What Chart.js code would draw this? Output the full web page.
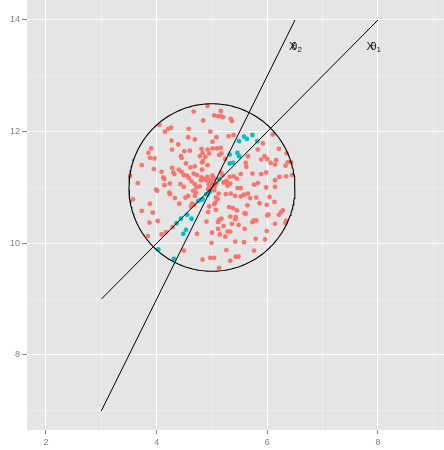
<!DOCTYPE html>
<html>
<head>
<meta charset="utf-8">
<script src="https://cdn.jsdelivr.net/npm/chart.js@4.4.1/dist/chart.umd.min.js"></script>
<style>
  html, body { margin: 0; padding: 0; background: #ffffff; }
  #wrap { width: 444px; height: 450px; }
</style>
</head>
<body>
<div id="wrap"><canvas id="c" width="444" height="450"></canvas></div>
<script>
// Sample points outside the projection set
const redX = [4.92,4.67,5.16,5.04,5.11,5.16,5.20,4.84,5.34,5.36,4.05,4.26,4.21,4.15,4.58,4.97,4.69,4.57,4.27,4.39,
  5.08,5.01,5.30,5.39,6.10,5.92,3.90,3.85,3.88,3.96,4.28,4.50,4.60,4.81,4.92,5.01,5.09,5.16,4.83,4.78,
  4.88,4.95,4.44,4.45,5.13,5.17,5.24,4.84,4.82,4.92,5.83,5.65,5.95,6.00,6.21,6.35,6.37,6.16,6.06,6.14,
  5.89,3.73,3.95,4.28,4.53,4.40,4.09,4.12,4.14,4.30,4.32,4.61,4.69,4.82,5.61,5.62,5.89,5.98,6.33,6.43,
  3.52,3.66,4.45,4.49,4.55,4.58,4.67,4.73,4.81,4.85,4.80,4.92,4.90,5.01,4.98,5.04,5.16,5.19,5.26,5.27,
  5.32,5.39,5.52,5.45,5.73,6.22,6.34,6.45,3.99,4.01,4.14,4.24,4.43,4.49,4.63,4.69,4.72,4.78,4.94,4.97,
  5.01,5.05,4.98,4.93,5.04,5.08,5.21,5.28,5.33,5.46,5.52,5.76,5.83,5.98,6.14,6.14,3.88,3.93,3.73,3.57,
  4.23,4.24,4.33,4.41,4.52,4.57,4.66,4.71,4.69,5.07,5.10,5.06,5.04,5.12,5.25,5.34,5.42,5.58,5.52,5.65,
  5.69,5.80,6.04,4.64,4.68,4.62,4.95,4.93,5.07,5.31,5.38,5.45,5.59,5.64,5.86,5.99,6.13,6.28,6.25,6.21,
  4.02,3.87,4.29,4.90,5.13,5.17,5.11,5.33,5.43,5.42,5.61,5.76,5.80,5.73,6.00,6.02,6.14,6.33,6.34,4.17,
  4.09,3.84,4.73,5.00,5.11,5.21,5.28,5.14,5.24,5.36,5.48,5.33,5.59,5.99,5.96,5.79,5.76,4.99,5.42,5.58,
  5.26,4.49,4.83,4.97,5.04,5.33,5.43,5.48,5.13,5.00,4.96,5.03,4.99,5.02,4.95];
const redY = [12.46,12.36,12.37,12.29,12.28,12.28,12.26,12.20,12.23,12.19,12.12,12.07,12.05,12.00,12.05,12.00,11.86,11.90,11.84,11.77,
  11.90,11.82,11.92,11.94,11.95,11.79,11.70,11.62,11.53,11.52,11.68,11.65,11.66,11.69,11.68,11.70,11.70,11.71,11.62,11.56,
  11.55,11.61,11.56,11.53,11.58,11.61,11.51,11.47,11.45,11.40,11.68,11.56,11.56,11.51,11.69,11.61,11.45,11.49,11.44,11.41,
  11.50,11.40,11.33,11.35,11.43,11.32,11.28,11.18,11.15,11.27,11.24,11.36,11.38,11.32,11.44,11.37,11.24,11.27,11.39,11.45,
  11.21,11.08,11.28,11.22,11.21,11.17,11.25,11.22,11.18,11.16,11.13,11.19,11.13,11.21,11.13,11.16,11.27,11.22,11.12,11.08,
  11.19,11.20,11.24,11.16,11.25,11.19,11.20,11.22,10.96,10.94,11.04,11.07,11.06,11.01,11.11,11.06,11.00,11.02,11.06,11.03,
  11.06,11.02,10.99,10.97,10.95,11.08,11.09,11.03,11.07,10.99,10.99,11.05,11.08,11.00,11.13,11.01,10.71,10.55,10.58,10.79,
  10.91,10.88,10.81,10.71,10.82,10.85,10.94,10.91,10.85,10.82,10.79,10.73,10.70,10.89,10.88,10.89,10.85,10.87,10.84,10.89,
  10.81,10.82,10.83,10.71,10.69,10.66,10.66,10.56,10.60,10.65,10.63,10.59,10.54,10.68,10.72,10.69,10.74,10.59,10.56,10.51,
  10.40,10.37,10.29,10.39,10.42,10.44,10.38,10.48,10.47,10.43,10.53,10.41,10.41,10.38,10.50,10.52,10.35,10.36,10.40,10.20,
  10.16,10.13,10.17,10.19,10.26,10.31,10.21,10.16,10.12,10.35,10.33,10.21,10.26,10.22,10.07,10.08,9.87,10.01,10.03,10.02,
  9.88,9.87,9.71,9.74,9.74,9.69,9.76,9.76,9.56,11.00,11.01,10.98,11.04,11.03,10.99];

// Points lying in the projection set
const tealX = [5.58,5.63,5.73,5.49,5.82,5.32,5.46,5.49,5.32,5.38,5.13,4.75,4.80,4.83,4.90,4.92,4.96,4.44,4.55,4.63,4.53,4.48,4.36,4.03,4.31];
const tealY = [11.91,11.87,11.94,11.83,11.83,11.59,11.62,11.56,11.43,11.44,11.15,10.76,10.78,10.79,10.88,10.87,10.92,10.44,10.51,10.44,10.24,10.17,10.36,9.89,9.72];

// Directions through the centre (end points of each segment)
const line1X = [3, 8];
const line1Y = [9, 14];
const line2X = [3, 6.5];
const line2Y = [7, 14];

// Reference circle
const circleCenter = [5, 11];
const circleRadius = 1.5;

// Axis ticks
const xTicks = [2, 3, 4, 5, 6, 7, 8, 9];
const yTicks = [7, 8, 9, 10, 11, 12, 13, 14];
const xRange = [1.657, 9.193];
const yRange = [6.657, 14.358];

// Line labels: "X" over theta with subscript
const labelText = ['1', '2'];
const labelXPosX = [7.86, 6.46];
const labelThetaX = [7.96, 6.53];
const labelY = [13.52, 13.52];

const toPts = (xs, ys) => xs.map((x, i) => ({ x: x, y: ys[i] }));

const circlePts = [];
for (let k = 0; k <= 240; k++) {
  const a = (k / 240) * Math.PI * 2;
  circlePts.push({ x: circleCenter[0] + circleRadius * Math.cos(a), y: circleCenter[1] + circleRadius * Math.sin(a) });
}

const panelBg = {
  id: 'panelBg',
  beforeDraw(chart) {
    const { ctx, chartArea: a } = chart;
    ctx.save();
    ctx.fillStyle = '#E5E5E5';
    ctx.fillRect(a.left, a.top, a.right - a.left, a.bottom - a.top);
    ctx.restore();
  }
};

const thetaLabels = {
  id: 'thetaLabels',
  afterDatasetsDraw(chart) {
    const { ctx, scales: { x, y } } = chart;
    ctx.save();
    ctx.fillStyle = '#1a1a1a';
    ctx.textBaseline = 'middle';
    for (let i = 0; i < labelText.length; i++) {
      const py = y.getPixelForValue(labelY[i]);
      ctx.font = '11px "Liberation Sans", Arial, sans-serif';
      ctx.textAlign = 'center';
      ctx.fillText('X', x.getPixelForValue(labelXPosX[i]), py);
      const tx = x.getPixelForValue(labelThetaX[i]);
      const w1 = ctx.measureText('\u03B8').width;
      ctx.font = '8px "Liberation Sans", Arial, sans-serif';
      const w2 = ctx.measureText(labelText[i]).width;
      const left = tx - (w1 + w2) / 2;
      ctx.font = '11px "Liberation Sans", Arial, sans-serif';
      ctx.textAlign = 'left';
      ctx.fillText('\u03B8', left, py);
      ctx.font = '8px "Liberation Sans", Arial, sans-serif';
      ctx.fillText(labelText[i], left + w1, py + 3);
    }
    ctx.restore();
  }
};

const gridColor = (c) => (c.tick && c.tick.value % 2 === 0) ? '#FFFFFF' : '#F2F2F2';
const gridWidth = (c) => (c.tick && c.tick.value % 2 === 0) ? 1.1 : 0.6;
const tickColor = (c) => (c.tick && c.tick.value % 2 === 0) ? '#7F7F7F' : 'rgba(0,0,0,0)';

new Chart(document.getElementById('c'), {
  type: 'scatter',
  data: {
    datasets: [
      { type: 'line', data: toPts(line1X, line1Y), borderColor: '#000000', borderWidth: 1, pointRadius: 0, fill: false, tension: 0 },
      { type: 'line', data: toPts(line2X, line2Y), borderColor: '#000000', borderWidth: 1, pointRadius: 0, fill: false, tension: 0 },
      { type: 'line', data: circlePts, borderColor: '#000000', borderWidth: 1.1, pointRadius: 0, fill: false, tension: 0 },
      { data: toPts(tealX, tealY), backgroundColor: '#00BFC4', borderWidth: 0, pointRadius: 2.4 },
      { data: toPts(redX, redY), backgroundColor: '#F8766D', borderWidth: 0, pointRadius: 2.4 }
    ]
  },
  options: {
    responsive: false,
    animation: false,
    devicePixelRatio: 1,
    layout: { padding: 0, autoPadding: false },
    plugins: { legend: { display: false }, tooltip: { enabled: false } },
    scales: {
      x: {
        type: 'linear', min: xRange[0], max: xRange[1],
        afterBuildTicks: (s) => { s.ticks = xTicks.map(v => ({ value: v })); },
        afterFit: (s) => { s.height = 20; s.paddingLeft = 0; s.paddingRight = 0; },
        border: { display: false },
        grid: { color: gridColor, lineWidth: gridWidth, tickColor: tickColor, tickLength: 4, tickWidth: 1 },
        ticks: {
          autoSkip: false, maxRotation: 0, padding: 3, color: '#7F7F7F',
          font: { family: '"Liberation Sans", Arial, sans-serif', size: 9 },
          callback: (v) => (v % 2 === 0 ? String(v) : '')
        }
      },
      y: {
        type: 'linear', min: yRange[0], max: yRange[1],
        afterBuildTicks: (s) => { s.ticks = yTicks.map(v => ({ value: v })); },
        afterFit: (s) => { s.width = 27; s.paddingTop = 0; s.paddingBottom = 0; },
        border: { display: false },
        grid: { color: gridColor, lineWidth: gridWidth, tickColor: tickColor, tickLength: 5, tickWidth: 1 },
        ticks: {
          autoSkip: false, padding: 2, color: '#7F7F7F',
          font: { family: '"Liberation Sans", Arial, sans-serif', size: 9 },
          callback: (v) => (v % 2 === 0 ? String(v) : '')
        }
      }
    }
  },
  plugins: [panelBg, thetaLabels]
});
</script>
</body>
</html>
